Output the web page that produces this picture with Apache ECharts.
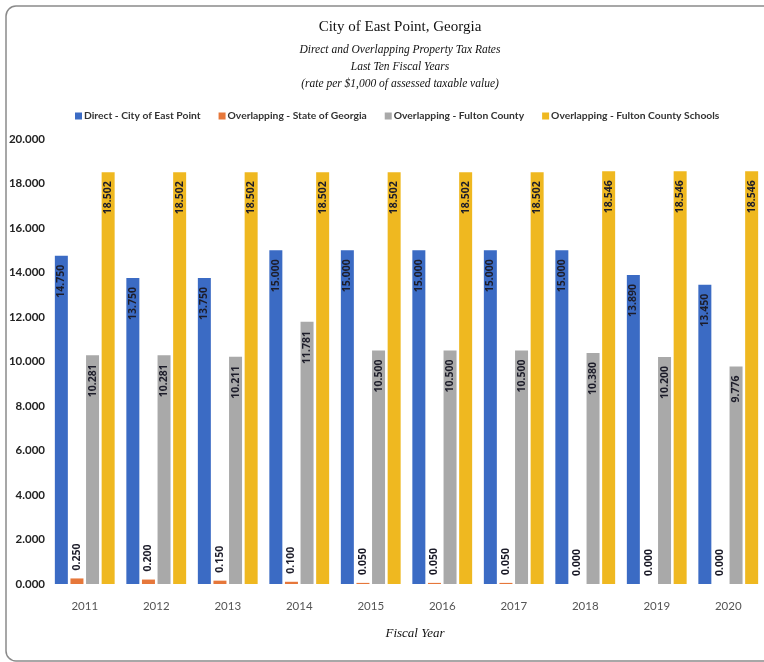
<!DOCTYPE html>
<html>
<head>
<meta charset="utf-8">
<script src="https://cdn.jsdelivr.net/npm/echarts@6/dist/echarts.min.js"></script>
<style>
html,body{margin:0;padding:0;background:#fff;}
#chart{width:764px;height:662px;}
</style>
</head>
<body>
<div id="chart"></div>
<script>
// Fiscal years on the category axis
var years = ['2011','2012','2013','2014','2015','2016','2017','2018','2019','2020'];

// Tax rates per $1,000 of assessed taxable value
var directCity = [14.750, 13.750, 13.750, 15.000, 15.000, 15.000, 15.000, 15.000, 13.890, 13.450];
var stateGeorgia = [0.250, 0.200, 0.150, 0.100, 0.050, 0.050, 0.050, 0.000, 0.000, 0.000];
var fultonCounty = [10.281, 10.281, 10.211, 11.781, 10.500, 10.500, 10.500, 10.380, 10.200, 9.776];
var fultonSchools = [18.502, 18.502, 18.502, 18.502, 18.502, 18.502, 18.502, 18.546, 18.546, 18.546];

var seriesNames = [
  'Direct - City of East Point',
  'Overlapping - State of Georgia',
  'Overlapping - Fulton County',
  'Overlapping - Fulton County Schools'
];
var colors = ['#3b6bc4', '#e6773a', '#a9a9a9', '#efb820'];

function fmt(v) { return Number(v).toFixed(3); }

var labelFont = {
  color: '#1d1d2a',
  fontFamily: 'Open Sans',
  fontWeight: 'bold',
  fontSize: 10.5,
  formatter: function (p) { return fmt(p.value); }
};
var insideLabel = Object.assign({
  show: true,
  position: 'insideTop',
  rotate: 90,
  align: 'right',
  verticalAlign: 'middle',
  distance: 9
}, labelFont);
var topLabel = Object.assign({
  show: true,
  position: 'top',
  rotate: 90,
  align: 'left',
  verticalAlign: 'middle',
  distance: 8
}, labelFont);

function barSeries(name, data, color, label) {
  return {
    name: name,
    type: 'bar',
    data: data,
    barWidth: 13,
    barGap: '20%',
    itemStyle: { color: color },
    label: label
  };
}

var chart = echarts.init(document.getElementById('chart'));
chart.setOption({
  animation: false,
  backgroundColor: '#fff',
  graphic: [{
    type: 'rect',
    shape: { x: 6, y: 6, width: 800, height: 655, r: 10 },
    style: { fill: 'none', stroke: '#8a8a8a', lineWidth: 1.5 },
    silent: true,
    z: -1
  }],
  title: [{
    text: 'City of East Point, Georgia',
    left: 395, top: 15, textAlign: 'center',
    textStyle: { fontFamily: 'Liberation Serif', fontSize: 15, fontWeight: 'normal', color: '#111' }
  }, {
    text: 'Direct and Overlapping Property Tax Rates\nLast Ten Fiscal Years\n(rate per $1,000 of assessed taxable value)',
    left: 395, top: 36, textAlign: 'center',
    textStyle: { fontFamily: 'Liberation Serif', fontSize: 11.5, fontStyle: 'italic', fontWeight: 'normal', color: '#111', lineHeight: 17 }
  }, {
    text: 'Fiscal Year',
    left: 410, top: 622, textAlign: 'center',
    textStyle: { fontFamily: 'Liberation Serif', fontSize: 13, fontStyle: 'italic', fontWeight: 'normal', color: '#111' }
  }],
  legend: {
    data: seriesNames,
    top: 106,
    left: 70,
    width: 690,
    itemWidth: 7,
    itemHeight: 7,
    itemGap: 18,
    icon: 'rect',
    textStyle: { fontFamily: 'Lato', fontSize: 10.3, fontWeight: 'bold', color: '#333', padding: [0, 0, 0, -3] }
  },
  grid: { left: 49, top: 139, width: 720, height: 445, containLabel: false },
  xAxis: {
    type: 'category',
    data: years,
    axisLine: { show: false },
    axisTick: { show: false },
    axisLabel: { margin: 16, color: '#555', fontFamily: 'Lato', fontSize: 11.5 }
  },
  yAxis: {
    type: 'value',
    min: 0, max: 20, interval: 2,
    splitLine: { show: false },
    axisLine: { show: false },
    axisTick: { show: false },
    axisLabel: {
      margin: 4, color: '#222', fontFamily: 'Lato', fontSize: 11.5, fontWeight: 'bold',
      formatter: function (v) { return fmt(v); }
    }
  },
  series: [
    barSeries(seriesNames[0], directCity, colors[0], insideLabel),
    barSeries(seriesNames[1], stateGeorgia, colors[1], topLabel),
    barSeries(seriesNames[2], fultonCounty, colors[2], insideLabel),
    barSeries(seriesNames[3], fultonSchools, colors[3], insideLabel)
  ]
});
</script>
</body>
</html>
